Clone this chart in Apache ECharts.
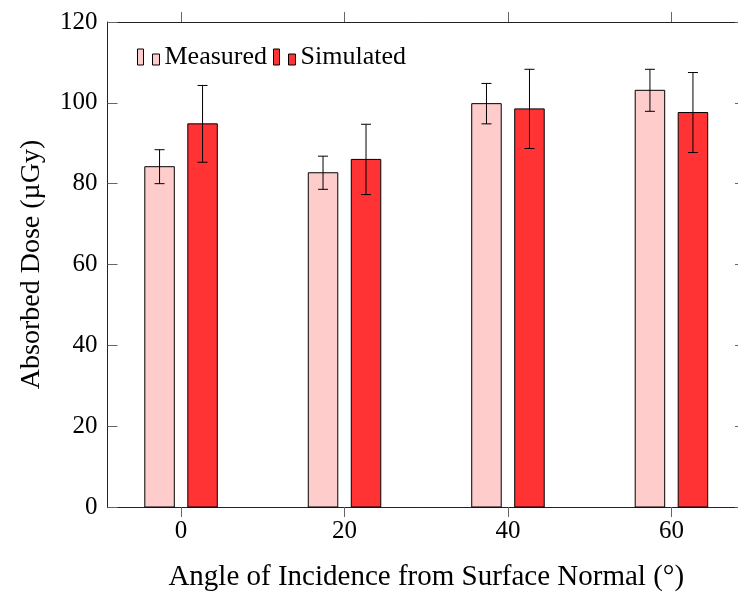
<!DOCTYPE html>
<html>
<head>
<meta charset="utf-8">
<script src="https://cdn.jsdelivr.net/npm/echarts@6/dist/echarts.min.js"></script>
<style>
  html, body { margin: 0; padding: 0; background: #fff; }
  #chart { width: 738px; height: 592px; }
</style>
</head>
<body>
<div id="chart"></div>
<script>
// data
const angles = [0, 20, 40, 60];
const measured = [84.2, 82.7, 99.8, 103.1];
const measuredErr = [4.2, 4.1, 5.0, 5.2];
const simulated = [94.8, 86.0, 98.5, 97.6];
const simulatedErr = [9.5, 8.7, 9.8, 9.9];
const yTicks = [0, 20, 40, 60, 80, 100, 120];

const FONT = '"Liberation Serif", "Times New Roman", serif';
const barW = 29.5;
const capW = 10;

// bar + error bar, shifted sideways by a pixel offset from the tick
function barRenderer(offset) {
  return function (params, api) {
    const x = api.value(0), y = api.value(1), e = api.value(2);
    const base = api.coord([x, 0]);
    const top = api.coord([x, y]);
    const hi = api.coord([x, y + e])[1];
    const lo = api.coord([x, y - e])[1];
    const cx = base[0] + offset;
    const line = { stroke: '#000', lineWidth: 1 };
    return {
      type: 'group',
      children: [
        { type: 'rect', shape: { x: cx - barW / 2, y: top[1], width: barW, height: base[1] - top[1] },
          style: api.style({ stroke: '#000', lineWidth: 1 }) },
        { type: 'line', shape: { x1: cx, y1: hi, x2: cx, y2: lo }, style: line },
        { type: 'line', shape: { x1: cx - capW / 2, y1: hi, x2: cx + capW / 2, y2: hi }, style: line },
        { type: 'line', shape: { x1: cx - capW / 2, y1: lo, x2: cx + capW / 2, y2: lo }, style: line }
      ]
    };
  };
}

const axisLine = { show: true, onZero: false, lineStyle: { color: '#222', width: 1 } };
const tickStyle = { color: '#666', width: 1 };

const chart = echarts.init(document.getElementById('chart'));
chart.setOption({
  animation: false,
  backgroundColor: '#fff',
  textStyle: { fontFamily: FONT },
  grid: { left: 107.5, right: -7, top: 22, bottom: 85, containLabel: false, outerBoundsMode: 'none' },
  legend: {
    left: 137, top: 44, padding: 0,
    itemWidth: 22, itemHeight: 16, itemGap: 6,
    icon: 'path://M0,0H6V16H0Z M15,5H22V16H15Z',
    itemStyle: { borderColor: '#000', borderWidth: 1 },
    textStyle: { fontFamily: FONT, fontSize: 26, color: '#000' },
    data: ['Measured', 'Simulated']
  },
  xAxis: [
    {
      type: 'value', position: 'bottom', min: -9, max: 69,
      name: 'Angle of Incidence from Surface Normal (°)',
      nameLocation: 'middle', nameGap: 56,
      nameTextStyle: { fontFamily: FONT, fontSize: 29, color: '#000' },
      axisLine: axisLine,
      axisTick: { show: true, inside: false, length: 10, customValues: angles, lineStyle: tickStyle },
      axisLabel: { customValues: angles, fontFamily: FONT, fontSize: 25, color: '#000', margin: 12 },
      splitLine: { show: false }
    },
    {
      type: 'value', position: 'top', min: -9, max: 69,
      axisLine: axisLine,
      axisTick: { show: true, inside: false, length: 10, customValues: angles, lineStyle: tickStyle },
      axisLabel: { show: false },
      splitLine: { show: false }
    }
  ],
  yAxis: [
    {
      type: 'value', position: 'left', min: 0, max: 120, interval: 20,
      name: 'Absorbed Dose (µGy)',
      nameLocation: 'middle', nameGap: 62,
      nameTextStyle: { fontFamily: FONT, fontSize: 28, color: '#000' },
      axisLine: axisLine,
      axisTick: { show: true, inside: true, length: 10, customValues: yTicks, lineStyle: tickStyle },
      axisLabel: { customValues: yTicks, fontFamily: FONT, fontSize: 25, color: '#000', margin: 10 },
      splitLine: { show: false }
    },
    {
      type: 'value', position: 'right', min: 0, max: 120, interval: 20,
      axisLine: axisLine,
      axisTick: { show: true, inside: true, length: 10, customValues: yTicks, lineStyle: tickStyle },
      axisLabel: { show: false },
      splitLine: { show: false }
    }
  ],
  series: [
    {
      name: 'Measured', type: 'custom',
      itemStyle: { color: '#ffcccc', borderColor: '#000', borderWidth: 1 },
      renderItem: barRenderer(-21.5),
      encode: { x: 0, y: 1 },
      data: angles.map((a, i) => [a, measured[i], measuredErr[i]])
    },
    {
      name: 'Simulated', type: 'custom',
      itemStyle: { color: '#ff3333', borderColor: '#000', borderWidth: 1 },
      renderItem: barRenderer(21.5),
      encode: { x: 0, y: 1 },
      data: angles.map((a, i) => [a, simulated[i], simulatedErr[i]])
    }
  ]
});
</script>
</body>
</html>
